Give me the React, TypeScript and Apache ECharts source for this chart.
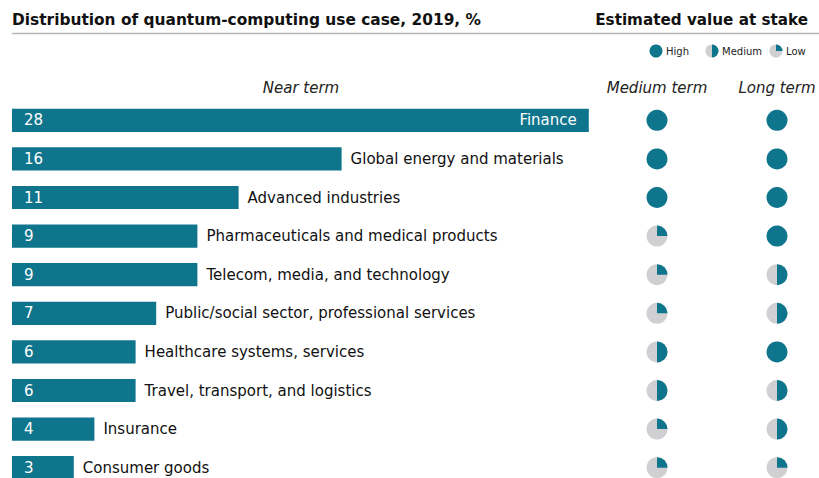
import React, { useEffect, useRef } from "react";
import * as echarts from "echarts";

const categories = [
  "Finance",
  "Global energy and materials",
  "Advanced industries",
  "Pharmaceuticals and medical products",
  "Telecom, media, and technology",
  "Public/social sector, professional services",
  "Healthcare systems, services",
  "Travel, transport, and logistics",
  "Insurance",
  "Consumer goods",
];
const nearTerm = [28, 16, 11, 9, 9, 7, 6, 6, 4, 3];
// 4 = High, 2 = Medium, 1 = Low
const mediumTerm = [4, 4, 4, 1, 1, 1, 2, 2, 1, 1];
const longTerm = [4, 4, 4, 4, 2, 2, 4, 2, 2, 1];
const termLabels = ["Medium term", "Long term"];
const legendItems = [
  { name: "High", level: 4 },
  { name: "Medium", level: 2 },
  { name: "Low", level: 1 },
];

const TEAL = "#0f758c";
const GRAY = "#d0d0d2";
const FONT = "DejaVu Sans";

function pieIcon(cx: number, cy: number, r: number, level: number): any[] {
  if (level >= 4) {
    return [{ type: "circle", shape: { cx, cy, r }, style: { fill: TEAL } }];
  }
  return [
    { type: "circle", shape: { cx, cy, r }, style: { fill: GRAY } },
    {
      type: "sector",
      shape: {
        cx,
        cy,
        r,
        r0: 0,
        startAngle: -Math.PI / 2,
        endAngle: -Math.PI / 2 + (level * Math.PI) / 2,
        clockwise: true,
      },
      style: { fill: TEAL },
    },
  ];
}

export default function App() {
  const ref = useRef<HTMLDivElement>(null);
  useEffect(() => {
    const chart = echarts.init(ref.current!, null, { renderer: "svg" });
    const pieData: any[] = [];
    categories.forEach((_, i) => {
      pieData.push([0, i, mediumTerm[i]]);
      pieData.push([1, i, longTerm[i]]);
    });

    const legendGraphics: any[] = [];
    const legendX = [656, 712, 776];
    legendItems.forEach((it, k) => {
      legendGraphics.push({
        type: "group",
        children: pieIcon(legendX[k], 51, 6.5, it.level),
      });
      legendGraphics.push({
        type: "text",
        x: legendX[k] + 10,
        y: 51,
        style: {
          text: it.name,
          fontFamily: FONT,
          fontSize: 10,
          fill: "#222",
          verticalAlign: "middle",
        },
      });
    });

    chart.setOption({
      animation: false,
      backgroundColor: "#fff",
      textStyle: { fontFamily: FONT },
      graphic: [
        {
          type: "text",
          x: 12,
          y: 20,
          style: {
            text: "Distribution of quantum-computing use case, 2019, %",
            fontFamily: FONT,
            fontWeight: "bold",
            fontSize: 15.4,
            fill: "#111",
            verticalAlign: "middle",
          },
        },
        {
          type: "text",
          x: 808,
          y: 20,
          style: {
            text: "Estimated value at stake",
            fontFamily: FONT,
            fontWeight: "bold",
            fontSize: 15.2,
            fill: "#111",
            align: "right",
            verticalAlign: "middle",
          },
        },
        {
          type: "line",
          shape: { x1: 12, y1: 33.5, x2: 819, y2: 33.5 },
          style: { stroke: "#b5b5b5", lineWidth: 1.5 },
        },
        {
          type: "text",
          x: 301,
          y: 88,
          style: {
            text: "Near term",
            fontFamily: FONT,
            fontStyle: "italic",
            fontSize: 15,
            fill: "#222",
            align: "center",
            verticalAlign: "middle",
          },
        },
        ...legendGraphics,
      ],
      grid: [
        { left: 12, width: 618, top: 101, height: 386, outerBoundsMode: "none" },
        { left: 597, width: 240, top: 101, height: 386, outerBoundsMode: "none" },
      ],
      xAxis: [
        { type: "value", gridIndex: 0, min: 0, max: 30, show: false },
        {
          type: "category",
          gridIndex: 1,
          data: termLabels,
          position: "top",
          axisLine: { show: false },
          axisTick: { show: false },
          axisLabel: {
            margin: 6,
            interval: 0,
            hideOverlap: false,
            fontFamily: FONT,
            fontStyle: "italic",
            fontSize: 15,
            color: "#222",
          },
        },
      ],
      yAxis: [
        { type: "category", gridIndex: 0, data: categories, inverse: true, show: false },
        { type: "category", gridIndex: 1, data: categories, inverse: true, show: false },
      ],
      series: [
        {
          type: "bar",
          xAxisIndex: 0,
          yAxisIndex: 0,
          barCategoryGap: "40%",
          itemStyle: { color: TEAL },
          data: nearTerm.map((v, i) =>
            i === 0
              ? {
                  value: v,
                  label: { position: "insideRight", distance: 12, color: "#fff" },
                }
              : v
          ),
          label: {
            show: true,
            position: "right",
            distance: 9,
            fontFamily: FONT,
            fontSize: 15,
            color: "#111",
            formatter: (p: any) => categories[p.dataIndex],
          },
        },
        {
          type: "bar",
          xAxisIndex: 0,
          yAxisIndex: 0,
          barGap: "-100%",
          barCategoryGap: "40%",
          itemStyle: { color: "rgba(0,0,0,0)" },
          data: nearTerm,
          label: {
            show: true,
            position: "insideLeft",
            distance: 12,
            fontFamily: FONT,
            fontSize: 15,
            color: "#fff",
          },
        },
        {
          type: "custom",
          xAxisIndex: 1,
          yAxisIndex: 1,
          data: pieData,
          clip: false,
          renderItem: (params: any, api: any) => {
            const pt = api.coord([api.value(0), api.value(1)]);
            return {
              type: "group",
              children: pieIcon(pt[0], pt[1], 10.5, api.value(2)),
            };
          },
        },
      ],
    });
    return () => chart.dispose();
  }, []);
  return (
    <div
      ref={ref}
      style={{ position: "fixed", left: 0, top: 0, width: 819, height: 478 }}
    />
  );
}
